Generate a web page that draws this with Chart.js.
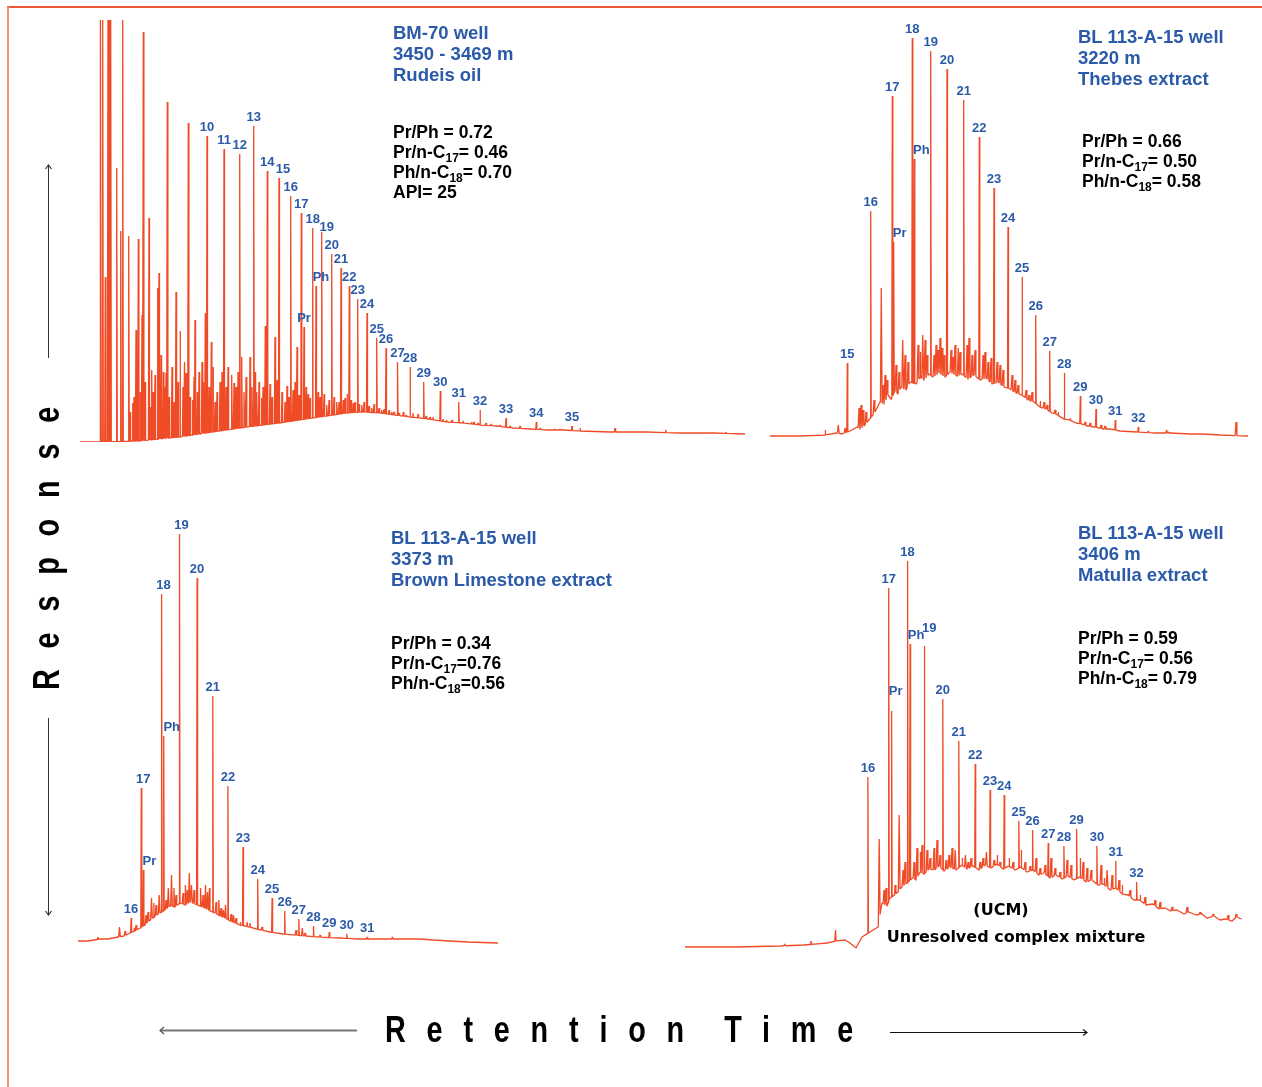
<!DOCTYPE html>
<html><head><meta charset="utf-8">
<script src="https://cdn.jsdelivr.net/npm/chart.js@4.4.1/dist/chart.umd.min.js"></script>
<style>
body{margin:0;background:#fff;}
#page{position:relative;width:1262px;height:1087px;overflow:hidden;font-family:"Liberation Sans",Arial,sans-serif;background:#fff;}
canvas.c{position:absolute;left:0;top:0;}
.title{position:absolute;color:#2a5aa8;font-weight:bold;font-size:18.5px;line-height:21px;white-space:nowrap;}
.ratio{position:absolute;color:#000;font-weight:bold;font-size:17.5px;line-height:20px;white-space:nowrap;}
.ratio sub{font-size:12px;vertical-align:-4px;line-height:0;}
.ucm{position:absolute;font-family:"DejaVu Sans",sans-serif;font-weight:bold;font-size:16px;white-space:nowrap;color:#000;transform:translate(-50%,-50%);}
.axt{position:absolute;font-family:"Liberation Sans",Arial,sans-serif;font-weight:bold;font-size:36px;line-height:36px;white-space:nowrap;color:#000;letter-spacing:26px;}
#frameTop{position:absolute;left:7px;top:6px;width:1255px;height:1.5px;background:#e8583a;}
#frameLeft{position:absolute;left:7px;top:7px;width:2px;height:1080px;background:#f2937c;}
svg{position:absolute;left:0;top:0;}
</style>
</head><body>
<div id="page">
<div id="frameTop"></div><div id="frameLeft"></div>
<canvas class="c" id="c1" width="1262" height="1087"></canvas>
<canvas class="c" id="c2" width="1262" height="1087"></canvas>
<canvas class="c" id="c3" width="1262" height="1087"></canvas>
<canvas class="c" id="c4" width="1262" height="1087"></canvas>

<div class="title" style="left:393px;top:22px;">BM-70 well<br>3450 - 3469 m<br>Rudeis oil</div>
<div class="ratio" style="left:393px;top:122px;">Pr/Ph = 0.72<br>Pr/n-C<sub>17</sub>= 0.46<br>Ph/n-C<sub>18</sub>= 0.70<br>API= 25</div>

<div class="title" style="left:1078px;top:26px;">BL 113-A-15 well<br>3220 m<br>Thebes extract</div>
<div class="ratio" style="left:1082px;top:131px;">Pr/Ph = 0.66<br>Pr/n-C<sub>17</sub>= 0.50<br>Ph/n-C<sub>18</sub>= 0.58</div>

<div class="title" style="left:391px;top:527px;">BL 113-A-15 well<br>3373 m<br>Brown Limestone extract</div>
<div class="ratio" style="left:391px;top:633px;">Pr/Ph = 0.34<br>Pr/n-C<sub>17</sub>=0.76<br>Ph/n-C<sub>18</sub>=0.56</div>

<div class="title" style="left:1078px;top:522px;">BL 113-A-15 well<br>3406 m<br>Matulla extract</div>
<div class="ratio" style="left:1078px;top:628px;">Pr/Ph = 0.59<br>Pr/n-C<sub>17</sub>= 0.56<br>Ph/n-C<sub>18</sub>= 0.79</div>

<div class="ucm" style="left:1001px;top:909px;">(UCM)</div>
<div class="ucm" style="left:1016px;top:936px;">Unresolved complex mixture</div>

<div class="axt" id="xt" style="left:385px;top:1012px;transform-origin:0 0;transform:scaleX(0.8);word-spacing:-12px;">Retention Time</div>
<div class="axt" id="yt" style="left:47px;top:538px;transform:translate(-50%,-50%) rotate(-90deg) scaleX(0.8);">Response</div>

<svg width="1262" height="1087">
  <line x1="160" y1="1030.5" x2="357" y2="1030.5" stroke="#777" stroke-width="2"/>
  <polyline points="164,1027 160,1030.5 164,1034" fill="none" stroke="#555" stroke-width="1.2"/>
  <line x1="890" y1="1032.5" x2="1087" y2="1032.5" stroke="#111" stroke-width="1"/>
  <polyline points="1083,1029.5 1087,1032.5 1083,1035.5" fill="none" stroke="#111" stroke-width="1.2"/>
  <line x1="48.5" y1="165" x2="48.5" y2="358" stroke="#333" stroke-width="1"/>
  <polyline points="45.5,169 48.5,165 51.5,169" fill="none" stroke="#333" stroke-width="1.2"/>
  <line x1="48.5" y1="718" x2="48.5" y2="915" stroke="#333" stroke-width="1"/>
  <polyline points="45.5,911 48.5,915 51.5,911" fill="none" stroke="#333" stroke-width="1.2"/>
</svg>
</div>

<script>
// ---------- DATA (retention time in min, detector response in counts) ----------
// Panel 1: BM-70 well, Rudeis oil
const p1HumpRt   = [0, 2.0, 6.0, 10.0, 13.3, 16.7, 20.0, 23.3, 26.7, 28.3, 30.0, 31.5, 33.0, 34.8, 36.7, 38.3, 40.0, 41.6, 43.3, 45.0, 46.7, 48.3, 50.0, 53.0, 56.7, 60.0, 63.3, 66.5];
const p1HumpResp = [0, 0, 1, 5, 10, 15, 19, 24, 29, 30, 29, 27, 25, 23, 20, 19, 17, 16, 14, 13, 12, 12, 11, 10, 10, 9, 9, 8];
const p1PeakNames = ['10','11','12','13','14','15','16','17','Pr','18','Ph','19','20','21','22','23','24','25','26','27','28','29','30','31','32','33','34','35'];
const p1PeakRt    = [12.7,14.4,15.97,17.37,18.73,19.9,21.07,22.13,22.4,23.27,23.6,24.17,25.17,26.1,26.93,27.77,28.7,29.67,30.6,31.75,33.0,34.37,36.03,37.87,40.0,42.6,45.63,49.2];
const p1PeakResp  = [306,293,288,316,271,264,246,229,115,214,156,210,188,174,156,143,129,104,94,80,75,60,51,40,32,24,20,16];
const p1MinorRt   = [2.07,2.27,2.53,2.8,2.93,3.07,3.67,4.07,4.27,4.87,5.27,5.6,5.83,6.0,6.2,6.33,6.9,7.17,7.5,7.77,7.9,8.1,8.33,8.6,8.73,9.6,10.0,10.6,10.83,11.27,11.5,11.73,12.2,12.53,13.13,13.5,14.0,15.17,15.4,16.17,17.0,17.67,18.17,18.53,19.5,20.5,21.7,21.9,23.0,24.67,25.67,26.33,27.33,28.17,29.17,30.17,31.17,32.33,35.0,36.67,39.17,39.4,41.1,47.5,50.0,53.5,58.57,64.6,
  5.0,5.4,6.5,7.0,7.3,8.0,8.45,8.9,9.2,9.4,9.8,10.3,10.45,11.0,11.4,11.9,12.35,12.9,13.3,13.7,14.2,14.6,14.8,15.6,15.8,16.4,16.6,17.2,17.5,17.9,18.3,19.0,19.2,19.7,20.2,20.7,20.9,21.3,21.5,22.6,22.8,23.8,24.0,24.4,24.9,25.4,25.9,26.5,26.7,27.1,27.5,27.9,28.4,28.9,29.4,29.9,30.4,30.9,31.4,31.9,32.6,33.3,33.8,34.6,35.3,36.3,37.2,38.3,39.8,40.6,42.0,43.0,44.0,46.0,48.0];
const p1MinorResp = [430,430,165,430,430,430,274,211,430,206,39,112,203,50,127,410,224,72,67,154,169,87,70,69,340,150,111,69,319,42,122,50,80,129,100,40,60,67,59,85,85,50,44,116,105,40,95,47,44,37,40,42,39,37,34,32,30,30,25,22,20,20,18,13,14,14,12,10,
  30,45,60,35,50,40,55,45,75,40,60,55,80,45,65,70,60,55,75,50,70,55,75,55,70,50,65,55,70,60,55,58,45,62,50,56,45,52,60,55,48,50,45,48,42,45,40,44,48,42,40,38,40,36,38,34,33,32,30,29,27,29,28,26,25,23,22,21,19,19,17,16,16,14,13];

// Panel 2: BL 113-A-15 well, 3220 m, Thebes extract
const p2HumpRt   = [0,3.0,5.5,6.7,7.2,8.0,8.7,9.0,9.5,9.8,10.3,10.6,11.0,11.4,11.8,12.1,12.5,12.8,13.1,13.6,14.0,14.6,15.0,15.4,15.9,16.3,16.9,17.5,18.0,18.7,19.2,19.8,20.4,21.0,21.6,22.2,22.8,23.4,24.0,24.6,25.2,25.8,26.4,27.0,27.6,28.2,28.8,29.4,30.0,30.6,31.2,31.7,32.5,33.3,34.0,35.0,36.7,38.5,40.0,42.0,43.3,45.0,47.8];
const p2HumpResp = [1,1,2,4,3,6,10,8,12,16,22,27,35,33,42,38,46,43,50,47,55,53,60,57,63,60,64,60,65,61,63,58,62,57,59,53,55,50,48,44,42,37,35,30,28,24,22,18,17,14,13,11,10,8,8,6,5,4,4,3,3,2,1];
const p2PeakNames = ['15','16','17','Pr','18','Ph','19','20','21','22','23','24','25','26','27','28','29','30','31','32'];
const p2PeakRt    = [7.73,10.07,12.23,12.37,14.23,14.43,16.07,17.7,19.37,20.93,22.4,23.8,25.2,26.57,27.97,29.43,31.03,32.6,34.53,36.83];
const p2PeakResp  = [74,226,341,195,399,278,386,368,337,300,249,210,160,122,86,64,41,28,17,10];
const p2MinorRt   = [5.5,6.83,7.5,8.9,9.1,9.3,9.6,10.4,11.13,11.3,11.5,11.7,12.6,12.9,13.27,13.5,13.8,14.8,15.0,15.27,15.5,15.7,16.4,16.6,16.8,17.0,17.2,17.4,18.1,18.3,18.5,18.83,19.0,19.7,19.9,20.2,20.5,21.3,21.5,21.8,22.1,22.7,23.0,23.3,24.2,24.5,24.8,25.6,25.9,26.2,27.0,27.4,27.7,28.5,28.8,30.0,31.5,32.0,33.1,33.5,37.83,39.67,39.8,46.6];
const p2MinorResp = [7,12,9,29,32,27,25,37,149,52,62,57,72,65,97,82,75,92,85,102,97,82,82,92,87,99,89,82,87,80,92,89,85,92,99,82,87,82,85,75,79,75,72,67,62,57,52,47,42,45,36,35,32,27,25,19,15,14,12,11,6,7,5,15];

// Panel 3: BL 113-A-15 well, 3373 m, Brown Limestone extract
const p3HumpRt   = [0,1.0,2.2,3.0,4.0,4.6,5.2,5.7,6.2,6.7,7.2,7.6,8.0,8.7,9.2,9.7,10.2,10.7,11.2,11.7,12.2,12.7,13.2,13.7,14.2,14.7,15.2,15.7,16.2,16.7,17.5,18.3,19.2,20.5,22.2,24.0,26.2,28.0,30.2,32.0,34.2,35.5,37.2,39.0,42.0];
const p3HumpResp = [3,3,5,5,7,8,11,13,16,19,24,27,30,34,38,37,41,39,42,40,38,36,33,31,28,26,23,21,19,18,16,14,12,10,8.5,7,6,5,5,5,5,4,3,2,1];
const p3PeakNames = ['16','17','Pr','18','Ph','19','20','21','22','23','24','25','26','27','28','29','30','31'];
const p3PeakRt    = [5.31,6.33,6.54,8.36,8.57,10.15,11.91,13.48,14.99,16.5,17.97,19.41,20.67,22.08,23.55,25.13,26.88,28.92];
const p3PeakResp  = [26,156,74,350,208,410,366,248,158,97,65,46,33,25,18,12,10,7];
const p3MinorRt   = [1.98,4.15,4.7,5.65,5.8,6.8,7.0,7.35,7.59,7.8,8.12,8.8,9.03,9.35,9.59,9.8,10.5,10.78,10.95,11.13,11.35,11.6,12.25,12.5,12.75,12.96,13.15,13.8,14.08,14.3,14.54,14.75,15.3,15.55,15.8,16.2,16.9,17.2,18.4,21.8,22.43,22.7,24.2,31.44];
const p3MinorResp = [7,17,13,16,19,29,32,46,41,39,49,44,56,69,56,49,51,59,54,71,59,54,56,49,59,52,56,42,44,36,34,39,30,29,26,22,22,21,17,14,16,11,9,7];

// Panel 4: BL 113-A-15 well, 3406 m, Matulla extract
const p4HumpRt   = [0.1,5.0,9.6,12.0,14.3,15.2,16.1,16.6,17.2,17.8,18.6,19.4,19.8,20.3,20.6,21.05,21.4,21.77,22.2,22.86,23.2,23.6,24.0,24.5,25.05,25.5,26.0,26.6,27.2,27.8,28.3,28.9,29.5,30.1,30.7,31.3,31.9,32.5,33.1,33.7,34.3,34.9,35.5,36.0,36.6,37.2,37.8,38.4,39.0,39.6,40.2,40.8,41.4,42.0,42.6,43.2,43.8,44.4,45.0,45.6,46.2,46.86,47.5,48.1,48.67,49.3,50.0,50.5,51.2,51.8,52.3,53.0,53.6,54.1,54.8,55.3,55.76];
const p4HumpResp = [3,3,4,5,7,9,10,7,2,13,18,23,47,44,52,55,58,63,66,72,70,78,76,81,80,84,79,83,80,85,81,84,80,85,82,86,81,84,80,83,78,80,75,77,72,75,71,74,70,73,68,70,65,66,60,62,56,55,50,50,45,46,41,42,39,40,36,38,35,36,32,34,30,31,29,33,31];
const p4PeakNames = ['16','17','Pr','18','Ph','19','20','21','22','23','24','25','26','27','28','29','30','31','32'];
const p4PeakRt    = [18.39,20.47,20.76,22.36,22.61,24.03,25.88,27.48,29.12,30.61,32.02,33.48,34.86,36.42,37.99,39.26,41.29,43.18,45.26];
const p4PeakResp  = [173,362,239,389,306,304,251,209,186,160,155,129,120,107,104,121,104,89,68];
const p4MinorRt   = [10.07,12.69,15.16,19.52,20.0,20.2,21.1,21.52,21.9,22.1,23.0,23.3,23.6,23.8,24.3,24.6,25.0,25.3,25.6,26.2,26.5,26.8,27.12,27.8,28.14,28.4,28.7,29.6,29.9,30.24,31.0,31.3,31.6,32.5,32.9,33.7,34.1,34.6,35.2,35.6,36.1,36.7,37.1,37.6,38.3,38.7,39.6,39.9,40.3,40.7,41.7,42.0,42.31,42.8,43.5,43.8,44.6,45.6,46.1,47.1,47.6,48.8,50.3,51.6,52.9,54.4,55.2];
const p4MinorResp = [6,9,20,111,60,62,65,135,80,88,88,102,98,105,100,92,102,110,95,90,95,102,100,92,95,88,92,88,92,98,90,95,88,92,88,100,88,84,92,82,85,92,82,78,90,85,92,88,82,80,85,72,80,75,70,65,60,55,53,50,48,43,43,38,36,35,36];

// ---------- LAYOUT / STYLE ----------
const W = 1262, H = 1087;
const LINE_COLOR = '#f04b27';
const LABEL_COLOR = '#2a5aa8';
const panels = [
  {id:'c1', box:{l:80, r:745, t:20, b:442}, xMax:66.5, yMax:422, hwMajor:0.05, hwMinor:0.06,
   hump:[p1HumpRt,p1HumpResp], peaks:[p1PeakNames,p1PeakRt,p1PeakResp], minor:[p1MinorRt,p1MinorResp],
   nudge:{'15':[4,0],'19':[5,4],'Ph':[5,0]}},
  {id:'c2', box:{l:770, r:1250, t:20, b:437}, xMax:48, yMax:417, hwMajor:0.05, hwMinor:0.09,
   hump:[p2HumpRt,p2HumpResp], peaks:[p2PeakNames,p2PeakRt,p2PeakResp], minor:[p2MinorRt,p2MinorResp],
   nudge:{'Pr':[6,0],'Ph':[7,0]}},
  {id:'c3', box:{l:78, r:500, t:520, b:944}, xMax:42.2, yMax:424, hwMajor:0.05, hwMinor:0.08,
   hump:[p3HumpRt,p3HumpResp], peaks:[p3PeakNames,p3PeakRt,p3PeakResp], minor:[p3MinorRt,p3MinorResp],
   nudge:{'Pr':[6,0],'Ph':[8,0],'19':[2,0],'17':[2,0],'18':[2,0]}},
  {id:'c4', box:{l:684, r:1244, t:540, b:950}, xMax:56, yMax:410, hwMajor:0.05, hwMinor:0.09,
   hump:[p4HumpRt,p4HumpResp], peaks:[p4PeakNames,p4PeakRt,p4PeakResp], minor:[p4MinorRt,p4MinorResp],
   nudge:{'Pr':[4,-11],'Ph':[6,0],'19':[5,-9]}}
];

function humpAt(rt, resp, x){
  if (x <= rt[0]) return resp[0];
  for (let i = 1; i < rt.length; i++){
    if (x <= rt[i]){ const f = (x - rt[i-1]) / (rt[i] - rt[i-1]); return resp[i-1] + (resp[i] - resp[i-1]) * f; }
  }
  return resp[resp.length - 1];
}
function buildTrace(p){
  const [hr, hv] = p.hump;
  const pts = hr.map((x,i)=>({x:x, y:hv[i]}));
  const addSpike = (rt, top, hw) => {
    pts.push({x:rt-hw, y:humpAt(hr,hv,rt-hw)}, {x:rt, y:top}, {x:rt+hw, y:humpAt(hr,hv,rt+hw)});
  };
  p.peaks[1].forEach((rt,i)=>addSpike(rt, p.peaks[2][i], p.hwMajor));
  p.minor[0].forEach((rt,i)=>addSpike(rt, p.minor[1][i], p.hwMinor));
  pts.sort((a,b)=>a.x-b.x);
  return pts;
}

const peakLabelPlugin = {
  id:'peakLabels',
  afterDatasetsDraw(chart, args, opts){
    const ctx = chart.ctx, xs = chart.scales.x, ys = chart.scales.y;
    ctx.save();
    ctx.font = 'bold 13px "Liberation Sans", Arial, sans-serif';
    ctx.fillStyle = LABEL_COLOR;
    ctx.textAlign = 'center';
    ctx.textBaseline = 'middle';
    opts.names.forEach((n,i)=>{
      const nd = opts.nudge[n] || [0,0];
      const px = xs.getPixelForValue(opts.rts[i]) + nd[0];
      const py = ys.getPixelForValue(opts.tops[i]) - 9 + nd[1];
      ctx.fillText(n, px, py);
    });
    ctx.restore();
  }
};

panels.forEach(p=>{
  new Chart(document.getElementById(p.id), {
    type:'line',
    data:{datasets:[{data:buildTrace(p), borderColor:LINE_COLOR, borderWidth:1.3, pointRadius:0, tension:0, fill:false, borderJoinStyle:'bevel'}]},
    options:{
      responsive:false, animation:false, devicePixelRatio:1, events:[],
      layout:{padding:{left:p.box.l, right:W-p.box.r, top:p.box.t, bottom:H-p.box.b}},
      scales:{
        x:{type:'linear', min:0, max:p.xMax, display:false},
        y:{type:'linear', min:0, max:p.yMax, display:false}
      },
      plugins:{legend:{display:false}, tooltip:{enabled:false},
        peakLabels:{names:p.peaks[0], rts:p.peaks[1], tops:p.peaks[2], nudge:p.nudge}}
    },
    plugins:[peakLabelPlugin]
  });
});
</script>
</body></html>
